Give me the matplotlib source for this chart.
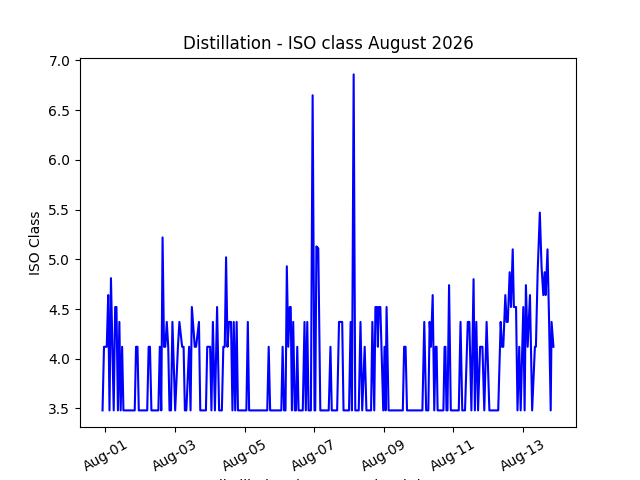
import matplotlib
matplotlib.use("Agg")
import matplotlib.pyplot as plt
import matplotlib.dates as mdates
import pandas as pd

start = "2026-07-31 22:00"

hours = [0, 1.0, 2.9, 3.9, 4.8, 5.8, 7.7, 8.7, 9.6, 10.6, 11.6, 12.5, 13.5, 14.4,
         22.2, 23.1, 24.1, 25.0, 30.8, 31.8, 32.7, 33.7,
         38.5, 39.5, 40.5, 41.4, 42.4, 43.3, 44.3, 45.3, 46.2, 47.2, 48.2, 50.1, 52.0, 53.0,
         54.9, 55.9, 56.8, 57.8,
         59.7, 60.7, 61.6, 63.6, 64.5, 66.5, 67.4, 71.3, 72.2, 74.2, 75.1, 76.1, 77.5, 79.0, 80.4,
         82.3, 83.3, 84.3, 85.2, 86.2, 87.2, 88.6, 89.6, 90.5, 91.5, 92.5, 93.4,
         99.2, 100.2, 101.1, 113.6, 114.6, 115.6, 123.3, 124.2, 125.2, 126.2, 127.1, 128.1,
         129.1, 129.8,
         130.6, 131.5, 132.6, 133.4, 134.3, 135.2, 138.1, 139.3, 140.2, 141.2, 142.1,
         143.7, 144.9, 146.2, 146.7, 147.5, 148.8, 150.2,
         156.0, 157.2, 158.1, 161.8, 163.1, 165.3, 166.2,
         170.0, 171.1, 172.0, 173.2, 174.3, 176.7, 177.9, 179.1, 180.8, 182.0,
         185.2, 186.1, 187.4, 188.2, 189.3, 189.9, 190.5, 191.6, 193.6, 194.5, 195.2, 195.9, 197.3,
         207.1, 208.0, 209.0, 210.0, 220.6, 221.9, 223.2, 224.7, 225.6, 226.5, 227.7, 228.8,
         229.7, 230.4, 231.1, 235.1, 235.9, 236.5, 237.2, 237.9, 239.0, 240.2,
         245.7, 246.9, 248.1, 250.0, 251.9, 253.0, 254.4, 255.9, 256.8, 257.8, 259.0,
         260.4, 262.0, 263.3, 264.9, 266.8,
         272.9, 274.6, 275.5, 276.4, 277.8, 278.7, 279.5, 280.8, 281.7, 282.9, 283.7, 285.2,
         286.2, 287.4, 288.4, 290.2, 291.1, 292.0, 293.2, 294.8, 296.3, 298.2, 298.9,
         300.1, 301.6, 302.8, 304.0, 304.9, 305.6, 306.9, 308.0, 309.1, 309.7, 311.0]

iso = [3.48, 4.12, 4.12, 4.64, 3.48, 4.81, 3.48, 4.52, 4.52, 3.48, 4.37, 3.48, 4.12, 3.48,
       3.48, 4.12, 4.12, 3.48, 3.48, 4.12, 4.12, 3.48,
       3.48, 4.12, 3.48, 5.22, 4.12, 4.12, 4.37, 4.12, 3.48, 3.48, 4.37, 3.48, 4.12, 4.37,
       4.12, 4.12, 3.48, 3.48,
       4.12, 3.48, 4.52, 4.12, 4.12, 4.37, 3.48, 3.48, 4.12, 4.12, 3.48, 4.37, 3.48, 4.52, 3.48,
       3.48, 4.12, 4.12, 5.02, 4.12, 4.37, 4.37, 3.48, 4.37, 3.48, 4.37, 3.48,
       3.48, 4.37, 3.48, 3.48, 4.12, 3.48, 3.48, 4.12, 3.48, 3.48, 4.93, 4.12,
       4.52, 4.52,
       3.48, 4.37, 3.48, 3.48, 4.12, 3.48, 3.48, 4.37, 3.48, 4.37, 3.48,
       3.48, 6.65, 3.48, 3.48, 5.13, 5.11, 3.48,
       3.48, 4.12, 3.48, 3.48, 4.37, 4.37, 3.48,
       3.48, 4.37, 3.48, 6.86, 3.48, 3.48, 4.37, 3.48, 4.12, 3.48,
       3.48, 4.37, 3.48, 4.52, 4.52, 4.12, 4.52, 4.52, 3.48, 4.12, 3.48, 4.52, 3.48,
       3.48, 4.12, 4.12, 3.48, 3.48, 4.37, 3.48, 3.48, 4.37, 4.12, 4.64, 3.48,
       4.12, 4.12, 3.48, 3.48, 4.12, 4.12, 3.48, 3.48, 4.74, 3.48,
       3.48, 4.37, 3.48, 3.48, 4.37, 4.37, 3.48, 4.80, 3.48, 4.37, 3.48,
       4.12, 4.12, 3.48, 4.37, 3.48,
       3.48, 4.37, 4.12, 4.12, 4.64, 4.37, 4.37, 4.87, 4.52, 5.10, 4.52, 4.52,
       3.48, 4.12, 3.48, 4.52, 3.48, 4.74, 4.12, 4.64, 3.48, 4.12, 4.12,
       4.87, 5.47, 4.92, 4.64, 4.87, 4.64, 5.10, 4.37, 3.48, 4.37, 4.12]

times = pd.Timestamp(start) + pd.to_timedelta(hours, unit="h")

fig, ax = plt.subplots(figsize=(6.4, 4.8), dpi=100)
ax.plot(times, iso, color="blue")
ax.set_title("Distillation - ISO class August 2026")
ax.set_ylabel("ISO Class")
ax.set_xlabel("distillation timestamp, local time")
ax.xaxis.set_major_locator(mdates.DayLocator(bymonthday=range(1, 32, 2)))
ax.xaxis.set_major_formatter(mdates.DateFormatter("%b-%d"))
plt.setp(ax.get_xticklabels(), rotation=30)
fig.savefig("out.png")
